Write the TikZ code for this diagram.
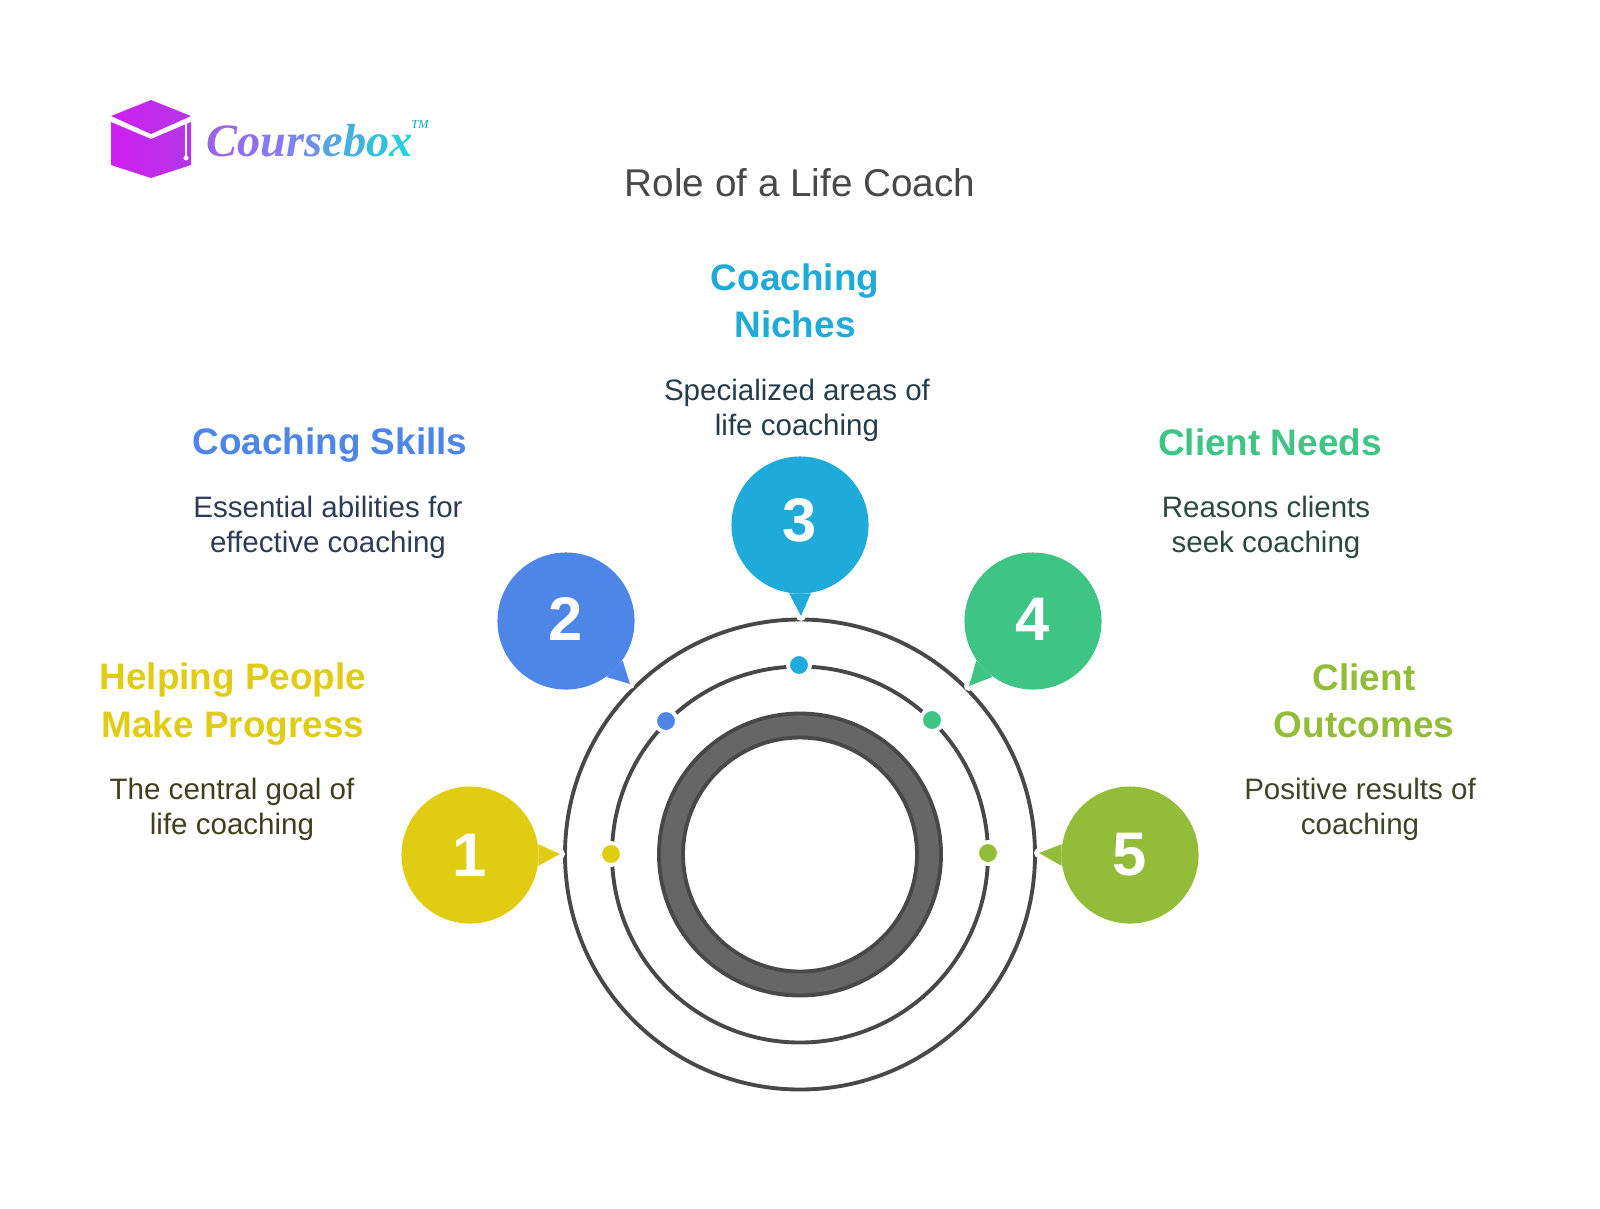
\documentclass[tikz,border=0pt]{standalone}
\usepackage{fontspec}
\setmainfont{Liberation Sans}
\newfontfamily\logofont{Liberation Serif}
\definecolor{ylw}{HTML}{E0CC12}
\definecolor{blu}{HTML}{4D86E6}
\definecolor{cyn}{HTML}{1EABDA}
\definecolor{grn}{HTML}{3EC484}
\definecolor{lim}{HTML}{93BD38}
\definecolor{ringdark}{HTML}{484848}
\definecolor{ringgray}{HTML}{666666}
\definecolor{bodyylw}{HTML}{403E1E}
\definecolor{bodyblu}{HTML}{2D3C55}
\definecolor{bodycyn}{HTML}{253D4A}
\definecolor{bodygrn}{HTML}{2A4A3C}
\definecolor{bodylim}{HTML}{3C4528}
\definecolor{cubeleft}{HTML}{D01EF2}
\definecolor{cuberight}{HTML}{B438E6}
\newcommand{\lc}[2]{\textcolor[HTML]{#1}{#2}}
\tikzset{
	bubble/.style={circle,fill=#1,minimum size=1.37cm,inner sep=0pt,text=white,font=\fontsize{17.5}{20}\selectfont\bfseries},
	dot/.style={circle,fill=#1,draw=white,line width=1.1pt,minimum size=0.22cm,inner sep=0pt},
	heading/.style={text=#1,align=center,font=\fontsize{10.5}{13.4}\selectfont\bfseries},
	body/.style={text=#1,align=center,font=\fontsize{8.4}{10}\selectfont},
	ring/.style={draw=ringdark,line width=1.1pt},
	cube/.style={left color=cubeleft,right color=cuberight}
}
\begin{document}
\begin{tikzpicture}[x=0.01cm,y=-0.01cm]
	\useasboundingbox (0,0) rectangle (1600,1208);
	\coordinate (O) at (800,854.5);
	\draw[ring] (O) circle (235);
	\draw[ring] (O) circle (188);
	\draw[ring,fill=ringgray,even odd rule] (O) circle (141) circle (117);

	\node[dot=ylw] (d1) at (611,854) {};
	\node[dot=blu] (d2) at (666,721) {};
	\node[dot=cyn] (d3) at (799,665) {};
	\node[dot=grn] (d4) at (932,720) {};
	\node[dot=lim] (d5) at (988,853) {};

	\coordinate (t1) at (560,854);
	\coordinate (t2) at (630,684);
	\coordinate (t3) at (801,616);
	\coordinate (t4) at (969,686);
	\coordinate (t5) at (1039,853);
	\foreach \t in {t1,t2,t3,t4,t5}
		\fill[white] (\t) circle (5);

	\node[bubble=ylw] (c1) at (470,855) {1};
	\node[bubble=blu] (c2) at (566,621) {\raisebox{1.2pt}{2}};
	\node[bubble=cyn] (c3) at (800,525) {\raisebox{2.8pt}{3}};
	\node[bubble=grn] (c4) at (1033,621) {\raisebox{1.2pt}{4}};
	\node[bubble=lim] (c5) at (1130,855) {\raisebox{0.6pt}{5}};
	\fill[ylw] (c1.9) -- (t1) -- (c1.-9) -- cycle;
	\fill[blu] (c2.-35) -- (t2) -- (c2.-54) -- cycle;
	\fill[cyn] (c3.-81) -- (t3) -- (c3.-99) -- cycle;
	\fill[grn] (c4.-126) -- (t4) -- (c4.-145) -- cycle;
	\fill[lim] (c5.171) -- (t5) -- (c5.189) -- cycle;

	\node[text=ringdark,font=\fontsize{11}{13}\selectfont] (title) at (800,183) {Role of a Life Coach};

	\node[heading=ylw] (h1) at (233,704) {Helping People\\Make Progress};
	\node[body=bodyylw] (b1) at (232,809) {The central goal of\\life coaching};
	\node[heading=blu] (h2) at (330,445) {Coaching Skills};
	\node[body=bodyblu] (b2) at (328,527) {Essential abilities for\\effective coaching};
	\node[heading=cyn] (h3) at (795,301) {Coaching\\Niches};
	\node[body=bodycyn] (b3) at (797,410) {Specialized areas of\\life coaching};
	\node[heading=grn] (h4) at (1270,442) {Client Needs};
	\node[body=bodygrn] (b4) at (1266,527) {Reasons clients\\seek coaching};
	\node[heading=lim] (h5) at (1364,701) {Client\\Outcomes};
	\node[body=bodylim] (b5) at (1360,809) {Positive results of\\coaching};

	\shade[cube] (111,122) -- (151,139) -- (191,122) -- (191,165) -- (151,178) -- (111,165) -- cycle;
	\shade[cube] (151,100) -- (191,116) -- (151,134) -- (111,116) -- cycle;
	\draw[white,line width=0.5pt] (186,122) -- (186,156);
	\fill[white] (186,158) circle (2.5);

	\node[font=\logofont\fontsize{13.2}{16}\selectfont\bfseries\itshape,anchor=west,inner sep=0pt] (logo) at (206,141) {\lc{9A66E8}{C}\lc{8F6FF0}{o}\lc{8A78F0}{u}\lc{7A85EE}{r}\lc{6C90E8}{s}\lc{55A5E0}{e}\lc{45B0DC}{b}\lc{33C0DC}{o}\lc{25CFDC}{x}};
	\node[font=\logofont\fontsize{3.5}{4}\selectfont\itshape,text=cyan!70!green,inner sep=0pt] (tm) at (420,124) {TM};
\end{tikzpicture}
\end{document}
